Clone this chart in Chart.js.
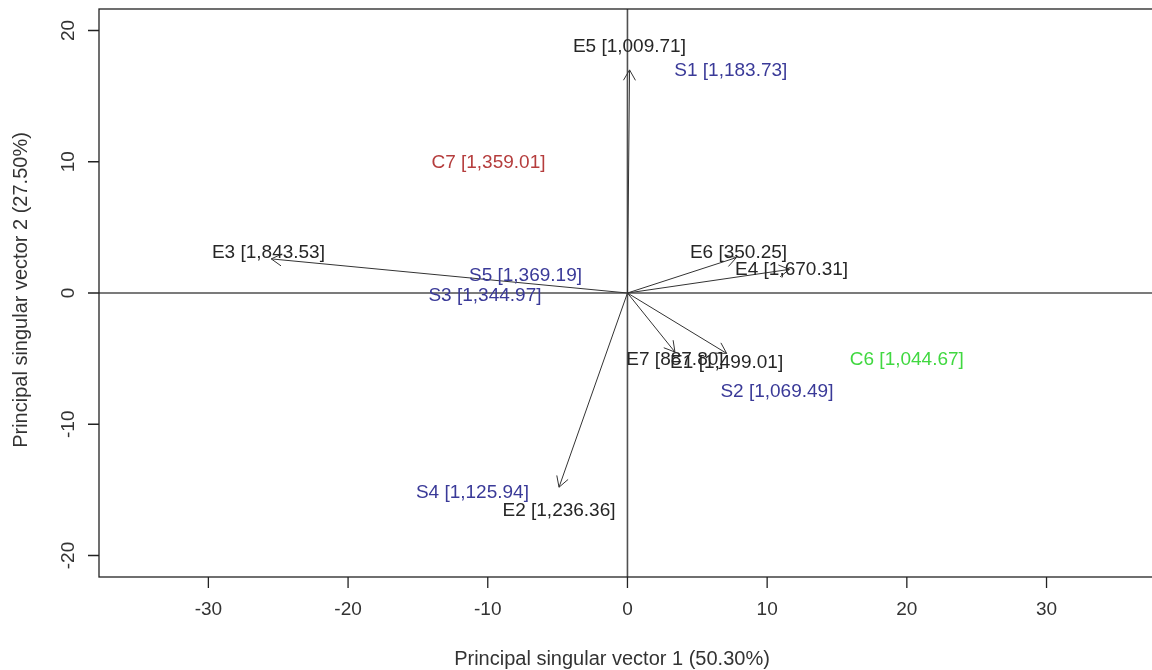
<!DOCTYPE html>
<html>
<head>
<meta charset="utf-8">
<script src="https://cdn.jsdelivr.net/npm/chart.js@4"></script>
<style>
  html, body { margin: 0; padding: 0; background: #fff; }
  #wrap { width: 1152px; height: 670px; }
</style>
</head>
<body>
<div id="wrap"><canvas id="myChart" width="1152" height="670"></canvas></div>
<script>
// 軸範圍與刻度
const xTicks = [-30, -20, -10, 0, 10, 20, 30];
const yTicks = [-20, -10, 0, 10, 20];
const xTitle = 'Principal singular vector 1 (50.30%)';
const yTitle = 'Principal singular vector 2 (27.50%)';

// 箭頭 (E 變數) 終點
const arrowNames = ['E1', 'E2', 'E3', 'E4', 'E5', 'E6', 'E7'];
const arrowX = [7.1, -4.9, -25.5, 11.6, 0.15, 7.8, 3.4];
const arrowY = [-4.6, -14.8, 2.6, 1.8, 17.0, 2.7, -4.5];

// 文字標籤
const labelText = ['E5 [1,009.71]', 'S1 [1,183.73]', 'C7 [1,359.01]', 'E3 [1,843.53]',
  'S5 [1,369.19]', 'S3 [1,344.97]', 'E6 [350.25]', 'E4 [1,670.31]', 'E7 [887.80]',
  'E1 [1,499.01]', 'C6 [1,044.67]', 'S2 [1,069.49]', 'S4 [1,125.94]', 'E2 [1,236.36]'];
const labelX = [0.14, 7.4, -9.95, -25.7, -7.3, -10.2, 7.95, 11.75, 3.4, 7.1, 20.0, 10.7, -11.1, -4.9];
const labelY = [18.8, 16.9, 9.9, 3.05, 1.3, -0.2, 3.1, 1.8, -5.1, -5.3, -5.1, -7.5, -15.2, -16.6];
const labelGroup = ['E', 'S', 'C7', 'E', 'S', 'S', 'E', 'E', 'E', 'E', 'C6', 'S', 'S', 'E'];

const groupColor = { E: '#262626', S: '#3a3a98', C7: '#b53d3d', C6: '#40d840' };
const FONT = '"Liberation Sans", Arial, sans-serif';

// 每個箭頭一條線
const datasets = arrowNames.map((name, i) => ({
  label: name,
  data: [{ x: 0, y: 0 }, { x: arrowX[i], y: arrowY[i] }],
  showLine: true,
  borderColor: '#333',
  borderWidth: 1,
  pointRadius: 0,
  fill: false
}));

// 框線、刻度、零軸、箭頭頭部、標籤
const biplotPlugin = {
  id: 'biplot',
  beforeDatasetsDraw(chart) {
    const { ctx, chartArea: a, scales: { x, y } } = chart;
    ctx.save();
    // 零軸
    ctx.strokeStyle = '#505050';
    ctx.lineWidth = 1.6;
    const x0 = x.getPixelForValue(0), y0 = y.getPixelForValue(0);
    ctx.beginPath();
    ctx.moveTo(a.left, y0); ctx.lineTo(a.right, y0);
    ctx.moveTo(x0, a.top); ctx.lineTo(x0, a.bottom);
    ctx.stroke();
    ctx.restore();
  },
  afterDatasetsDraw(chart) {
    const { ctx, chartArea: a, scales: { x, y } } = chart;
    ctx.save();
    // 外框
    ctx.strokeStyle = '#222';
    ctx.lineWidth = 1.3;
    ctx.strokeRect(a.left, a.top, a.right - a.left + 10, a.bottom - a.top);

    // 刻度
    ctx.fillStyle = '#333';
    ctx.font = '19px ' + FONT;
    ctx.textAlign = 'center';
    ctx.textBaseline = 'middle';
    ctx.beginPath();
    xTicks.forEach(v => {
      const px = x.getPixelForValue(v);
      ctx.moveTo(px, a.bottom); ctx.lineTo(px, a.bottom + 11);
      ctx.fillText(String(v), px, a.bottom + 33);
    });
    yTicks.forEach(v => {
      const py = y.getPixelForValue(v);
      ctx.moveTo(a.left, py); ctx.lineTo(a.left - 11, py);
    });
    ctx.stroke();
    yTicks.forEach(v => {
      const py = y.getPixelForValue(v);
      ctx.save();
      ctx.translate(a.left - 30, py);
      ctx.rotate(-Math.PI / 2);
      ctx.fillText(String(v), 0, 0);
      ctx.restore();
    });

    // 軸標題
    ctx.font = '20px ' + FONT;
    ctx.fillText(xTitle, 612, 659);
    ctx.save();
    ctx.translate(21, 290);
    ctx.rotate(-Math.PI / 2);
    ctx.fillText(yTitle, 0, 0);
    ctx.restore();

    // 箭頭頭部
    ctx.strokeStyle = '#333';
    ctx.lineWidth = 1;
    arrowNames.forEach((n, i) => {
      const px = x.getPixelForValue(arrowX[i]), py = y.getPixelForValue(arrowY[i]);
      const ang = Math.atan2(py - y.getPixelForValue(0), px - x.getPixelForValue(0));
      const len = 12, spread = Math.PI / 6;
      ctx.beginPath();
      ctx.moveTo(px - len * Math.cos(ang - spread), py - len * Math.sin(ang - spread));
      ctx.lineTo(px, py);
      ctx.lineTo(px - len * Math.cos(ang + spread), py - len * Math.sin(ang + spread));
      ctx.stroke();
    });

    // 標籤
    ctx.font = '19px ' + FONT;
    labelText.forEach((t, i) => {
      ctx.fillStyle = groupColor[labelGroup[i]];
      ctx.fillText(t, x.getPixelForValue(labelX[i]), y.getPixelForValue(labelY[i]));
    });
    ctx.restore();
  }
};

const config = {
  type: 'scatter',
  data: { datasets: datasets },
  options: {
    responsive: false,
    animation: false,
    events: [],
    layout: { padding: { left: 99, top: 9, right: 0, bottom: 93 } },
    plugins: { legend: { display: false }, tooltip: { enabled: false } },
    scales: {
      x: { type: 'linear', display: false, min: -37.83, max: 37.55 },
      y: { type: 'linear', display: false, min: -21.64, max: 21.64 }
    }
  },
  plugins: [biplotPlugin]
};

const chart = new Chart(document.getElementById('myChart'), config);
</script>
</body>
</html>
